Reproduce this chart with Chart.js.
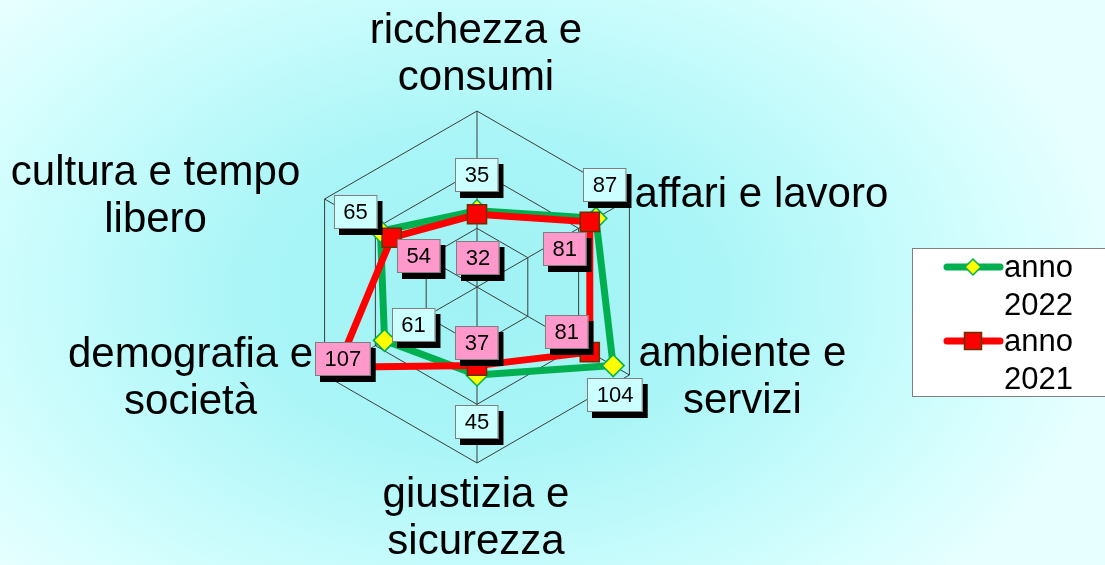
<!DOCTYPE html>
<html lang="it">
  <head>
    <meta charset="UTF-8" />
    <script src="https://cdn.jsdelivr.net/npm/chart.js"></script>
    <title>Radar 2021 - 2022</title>
    <style>
      html,
      body {
        margin: 0;
        padding: 0;
        overflow: hidden;
      }
      body {
        width: 1105px;
        height: 565px;
        background: radial-gradient(
          ellipse 640px 430px at 480px 290px,
          #9ff2f4 0%,
          #a9f5f7 35%,
          #cffdfd 75%,
          #e8ffff 100%
        );
      }
      canvas {
        display: block;
      }
    </style>
  </head>

  <body>
    <canvas id="grafico" width="1105" height="565"></canvas>

    <script>
      // categorie (assi del radar), in senso orario partendo dall'alto
      var categorie = [
        ["ricchezza e", "consumi"],
        ["affari e lavoro"],
        ["ambiente e", "servizi"],
        ["giustizia e", "sicurezza"],
        ["demografia e", "società"],
        ["cultura e tempo", "libero"],
      ];
      var serie = ["anno 2022", "anno 2021"];
      var valori2022 = [35, 87, 104, 45, 61, 65];
      var valori2021 = [32, 81, 81, 37, 107, 54];
      var scalaMin = -30;
      var scalaMax = 120;
      var scalaPasso = 50;

      var FONT = '"Liberation Sans", Arial, sans-serif';
      var VERDE = "#00b050";
      var ROSSO = "#ff0000";

      // posizione dei testi degli assi rispetto al vertice esterno: [dx, dy prima riga]
      var posAssi = [
        [-1, -68],
        [132, 8],
        [113, -9],
        [-1, 44],
        [-134, -8],
        [-169, -14],
      ];
      // posizione delle etichette dei valori rispetto al punto
      var posEtichette = [
        [[0, -36], [9, -33], [2, 29], [0, 47], [29, -15], [-25, -19]],
        [[1, 44], [-25, 27], [-23, -20], [0, -23], [5, -8], [27, 18]],
      ];
      var coloriEtichette = ["#ccffff", "#ff99cc"];

      function etichetta(ctx, testo, cx, cy, sfondo) {
        ctx.font = "22px " + FONT;
        var w = ctx.measureText(testo).width + 19;
        var h = 34;
        var x = Math.round(cx - w / 2);
        var y = Math.round(cy - h / 2);
        ctx.fillStyle = "#000000";
        ctx.fillRect(x + 5, y + 6, w, h);
        ctx.fillStyle = sfondo;
        ctx.fillRect(x, y, w, h);
        ctx.strokeStyle = "#7f7f7f";
        ctx.lineWidth = 1;
        ctx.strokeRect(x + 0.5, y + 0.5, w - 1, h - 1);
        ctx.fillStyle = "#000000";
        ctx.textAlign = "center";
        ctx.textBaseline = "middle";
        ctx.fillText(testo, cx, cy + 1);
      }

      var pluginTesti = {
        id: "testi",
        afterDatasetsDraw: function (chart) {
          var ctx = chart.ctx;
          var scala = chart.scales.r;
          ctx.save();

          // nomi degli assi
          ctx.font = "42px " + FONT;
          ctx.fillStyle = "#000000";
          ctx.textAlign = "center";
          ctx.textBaseline = "alphabetic";
          categorie.forEach(function (righe, i) {
            var v = scala.getPointPositionForValue(i, scalaMax);
            righe.forEach(function (riga, j) {
              ctx.fillText(riga, v.x + posAssi[i][0], v.y + posAssi[i][1] + j * 47);
            });
          });

          // etichette dei valori
          chart.data.datasets.forEach(function (ds, d) {
            var meta = chart.getDatasetMeta(d);
            meta.data.forEach(function (p, i) {
              var o = posEtichette[d][i];
              etichetta(ctx, String(ds.data[i]), p.x + o[0], p.y + o[1], coloriEtichette[d]);
            });
          });

          // legenda
          ctx.fillStyle = "#ffffff";
          ctx.fillRect(913, 248, 200, 148);
          ctx.strokeStyle = "#808080";
          ctx.lineWidth = 1;
          ctx.strokeRect(912.5, 248.5, 200, 148);

          chart.data.datasets.forEach(function (ds, d) {
            var y = 267 + d * 74;
            ctx.strokeStyle = ds.borderColor;
            ctx.lineWidth = 7;
            ctx.lineCap = "round";
            ctx.beginPath();
            ctx.moveTo(947, y);
            ctx.lineTo(1000, y);
            ctx.stroke();
            ctx.lineCap = "butt";

            ctx.fillStyle = ds.pointBackgroundColor;
            ctx.strokeStyle = ds.pointBorderColor;
            ctx.lineWidth = 1.5;
            ctx.beginPath();
            if (ds.pointStyle === "rectRot") {
              ctx.moveTo(973, y - 8);
              ctx.lineTo(981, y);
              ctx.lineTo(973, y + 8);
              ctx.lineTo(965, y);
              ctx.closePath();
            } else {
              ctx.rect(964.5, y - 8.5, 17, 17);
            }
            ctx.fill();
            ctx.stroke();

            ctx.fillStyle = "#000000";
            ctx.font = "31px " + FONT;
            ctx.textAlign = "left";
            ctx.textBaseline = "alphabetic";
            var parti = ds.label.split(" ");
            ctx.fillText(parti[0], 1004, y + 10);
            ctx.fillText(parti[1], 1004, y + 48);
          });

          ctx.restore();
        },
      };

      var grafico = new Chart(document.getElementById("grafico"), {
        type: "radar",
        data: {
          labels: categorie,
          datasets: [
            {
              label: serie[0],
              data: valori2022,
              borderColor: VERDE,
              borderWidth: 7,
              borderJoinStyle: "round",
              fill: false,
              pointStyle: "rectRot",
              pointRadius: 11,
              pointBackgroundColor: "#ffff00",
              pointBorderColor: VERDE,
              pointBorderWidth: 1.5,
              order: 1,
            },
            {
              label: serie[1],
              data: valori2021,
              borderColor: ROSSO,
              borderWidth: 7,
              borderJoinStyle: "round",
              fill: false,
              pointStyle: "rect",
              pointRadius: 13.5,
              pointBackgroundColor: ROSSO,
              pointBorderColor: "#663300",
              pointBorderWidth: 1.5,
              order: 0,
            },
          ],
        },
        options: {
          responsive: false,
          animation: false,
          layout: {
            padding: { left: 301, top: 111, right: 452, bottom: 102 },
          },
          elements: { line: { tension: 0 } },
          plugins: {
            legend: { display: false },
            tooltip: { enabled: false },
          },
          scales: {
            r: {
              min: scalaMin,
              max: scalaMax,
              ticks: { display: false, stepSize: scalaPasso },
              pointLabels: { display: false },
              grid: { color: "#3c3c3c", lineWidth: 1 },
              angleLines: { color: "#3c3c3c", lineWidth: 1 },
            },
          },
        },
        plugins: [pluginTesti],
      });
    </script>
  </body>
</html>
